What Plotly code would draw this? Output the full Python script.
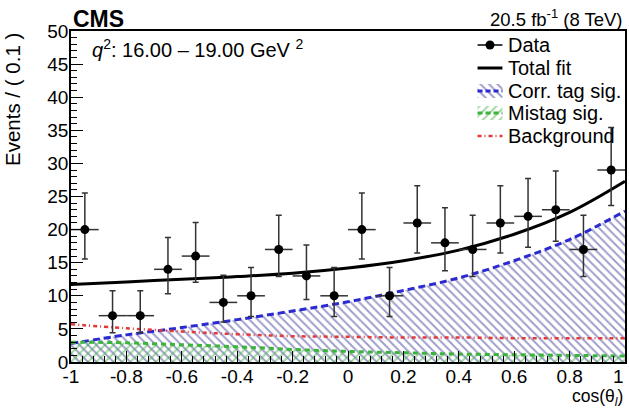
import plotly.graph_objects as go

# Binned data: cos(theta_l) in bins of 0.1, q^2 in [16, 19] GeV^2
bin_centers = [-0.95, -0.85, -0.75, -0.65, -0.55, -0.45, -0.35, -0.25, -0.15, -0.05,
               0.05, 0.15, 0.25, 0.35, 0.45, 0.55, 0.65, 0.75, 0.85, 0.95]
counts = [20, 7, 7, 14, 16, 9, 10, 17, 13, 10,
          20, 10, 21, 18, 17, 21, 22, 23, 17, 29]
# Poisson (Garwood) error bars for the counts above
err_low = [4.44, 2.58, 2.58, 3.70, 3.97, 2.94, 3.11, 4.09, 3.56, 3.11,
           4.44, 3.11, 4.55, 4.21, 4.09, 4.55, 4.66, 4.77, 4.09, 5.36]
err_high = [5.52, 3.77, 3.77, 4.80, 5.06, 4.11, 4.27, 5.18, 4.67, 4.27,
            5.52, 4.27, 5.63, 5.30, 5.18, 5.63, 5.73, 5.84, 5.18, 6.44]
half_bin = [0.05] * len(bin_centers)

# Fit projections sampled along cos(theta_l)
curve_x = [-1.0, -0.8, -0.6, -0.4, -0.2, 0.0, 0.2, 0.4, 0.6, 0.8, 1.0]
total_fit = [11.7, 12.1, 12.5, 12.9, 13.4, 14.2, 15.3, 16.9, 19.3, 22.6, 27.3]
corr_tag = [2.8, 4.1, 5.2, 6.4, 7.7, 9.1, 10.8, 12.7, 15.3, 18.5, 22.8]
mistag = [3.0, 2.9, 2.6, 2.3, 1.9, 1.6, 1.4, 1.2, 1.1, 1.0, 0.9]
background = [5.7, 5.1, 4.6, 4.2, 3.9, 3.8, 3.7, 3.7, 3.6, 3.6, 3.6]

x_tickvals = [-1, -0.8, -0.6, -0.4, -0.2, 0, 0.2, 0.4, 0.6, 0.8, 1]
x_ticktext = ["-1", "-0.8", "-0.6", "-0.4", "-0.2", "0", "0.2", "0.4", "0.6", "0.8", ""]
last_x_tick = "1"
y_tickvals = [0, 5, 10, 15, 20, 25, 30, 35, 40, 45, 50]

legend_labels = ["Data", "Total fit", "Corr. tag sig.", "Mistag sig.", "Background"]

FONT = "Liberation Sans, Arial, Helvetica, sans-serif"
BLUE, BLUE_HATCH = "#2a2ad0", "#3c3c96"
GREEN, GREEN_HATCH = "#3cb43c", "#44b044"
RED = "#e03a3a"
CORR_LINE = dict(color=BLUE, width=3, dash="7px,4px")
MIS_LINE = dict(color=GREEN, width=3, dash="5px,4px")
BKG_LINE = dict(color=RED, width=2.5, dash="4px,3px,1px,3px")
CORR_PATTERN = dict(shape="\\", fgcolor=BLUE_HATCH, bgcolor="rgba(0,0,0,0)", size=6, solidity=0.32)
MIS_PATTERN = dict(shape="/", fgcolor=GREEN_HATCH, bgcolor="rgba(0,0,0,0)", size=6, solidity=0.32)

fig = go.Figure()

fig.add_trace(go.Scatter(
    x=curve_x, y=corr_tag, mode="lines", name="Corr. tag sig.",
    line=dict(CORR_LINE, shape="spline"),
    fill="tozeroy", fillcolor="rgba(0,0,0,0)", fillpattern=CORR_PATTERN,
))
fig.add_trace(go.Scatter(
    x=curve_x, y=mistag, mode="lines", name="Mistag sig.",
    line=dict(MIS_LINE, shape="spline"),
    fill="tozeroy", fillcolor="rgba(0,0,0,0)", fillpattern=MIS_PATTERN,
))
fig.add_trace(go.Scatter(
    x=curve_x, y=background, mode="lines", name="Background",
    line=dict(BKG_LINE, shape="spline"),
))
fig.add_trace(go.Scatter(
    x=curve_x, y=total_fit, mode="lines", name="Total fit",
    line=dict(color="black", width=3, shape="spline"),
))
fig.add_trace(go.Scatter(
    x=bin_centers, y=counts, mode="markers", name="Data",
    marker=dict(color="black", size=9),
    error_y=dict(type="data", symmetric=False, array=err_high, arrayminus=err_low,
                 color="#333333", thickness=1.5, width=3),
    error_x=dict(type="data", array=half_bin, color="#333333", thickness=1.5, width=0),
))

# Legend box drawn on an overlay axis pair measured in screen pixels
# (x: 71..627 left to right, y: 31..362 top to bottom).
row_y = [45, 68, 91, 113, 136]
key_x0, key_x1, text_x = 479, 504, 508
key_mid = (key_x0 + key_x1) / 2
L = dict(xaxis="x2", yaxis="y2", showlegend=False, hoverinfo="skip")

fig.add_trace(go.Scatter(x=[key_x0, key_x1], y=[row_y[0]] * 2, mode="lines",
                         line=dict(color="black", width=1.5), **L))
fig.add_trace(go.Scatter(x=[key_mid], y=[row_y[0]], mode="markers",
                         marker=dict(color="black", size=9), **L))
fig.add_trace(go.Scatter(x=[key_x0, key_x1], y=[row_y[1]] * 2, mode="lines",
                         line=dict(color="black", width=3), **L))
for ry, pattern, line in [(row_y[2], CORR_PATTERN, CORR_LINE), (row_y[3], MIS_PATTERN, MIS_LINE)]:
    fig.add_trace(go.Scatter(
        x=[key_x0, key_x1, key_x1, key_x0, key_x0],
        y=[ry - 7, ry - 7, ry + 7, ry + 7, ry - 7],
        mode="lines", line=dict(width=0), fill="toself",
        fillcolor="rgba(0,0,0,0)", fillpattern=pattern, **L))
    fig.add_trace(go.Scatter(x=[key_x0, key_x1], y=[ry] * 2, mode="lines",
                             line=dict(line, dash="5px,3px"), **L))
fig.add_trace(go.Scatter(x=[key_x0, key_x1], y=[row_y[4]] * 2, mode="lines",
                         line=BKG_LINE, **L))

fig.update_layout(
    width=629, height=409,
    margin=dict(l=71, r=2, t=31, b=47),
    paper_bgcolor="white", plot_bgcolor="white",
    font=dict(family=FONT, color="black", size=19),
    showlegend=False,
    xaxis=dict(
        range=[-1, 1], showgrid=False, zeroline=False,
        showline=True, linecolor="black", linewidth=1.5, mirror=True,
        ticks="inside", ticklen=11, tickwidth=1, tickcolor="black",
        tickmode="array", tickvals=x_tickvals, ticktext=x_ticktext, ticklabelstandoff=-4,
        minor=dict(ticks="inside", ticklen=6, tick0=-1, dtick=0.04,
                   tickcolor="black", tickwidth=1),
        tickfont=dict(size=19),
    ),
    yaxis=dict(
        range=[0, 50], showgrid=False, zeroline=False,
        showline=True, linecolor="black", linewidth=1.5, mirror=True,
        ticks="inside", ticklen=12, tickwidth=1, tickcolor="black",
        tickmode="array", tickvals=y_tickvals, ticklabelstandoff=-3,
        minor=dict(ticks="inside", ticklen=6, tick0=0, dtick=1,
                   tickcolor="black", tickwidth=1),
        tickfont=dict(size=19),
    ),
    xaxis2=dict(overlaying="x", anchor="y2", range=[71, 627], visible=False,
                fixedrange=True, showgrid=False, zeroline=False),
    yaxis2=dict(overlaying="y", anchor="x2", range=[362, 31], visible=False,
                fixedrange=True, showgrid=False, zeroline=False),
)

annotations = [
    dict(text="<b>CMS</b>", x=0.0, y=1.0, xref="paper", yref="paper",
         xanchor="left", yanchor="bottom", yshift=-3, showarrow=False,
         font=dict(size=23, family=FONT)),
    dict(text="20.5 fb<sup>-1</sup> (8 TeV)", x=1.0, y=1.0, xref="paper", yref="paper",
         xanchor="right", yanchor="bottom", yshift=-1, showarrow=False,
         font=dict(size=18.5, family=FONT)),
    dict(text="<i>q</i><sup>2</sup>: 16.00 \u2013 19.00 GeV <sup>2</sup>",
         x=0.035, y=0.99, xref="paper", yref="paper",
         xanchor="left", yanchor="top", showarrow=False,
         font=dict(size=20, family=FONT)),
    dict(text="Events / ( 0.1 )", textangle=-90, x=0, y=1.0, xref="paper", yref="paper",
         xanchor="right", yanchor="top", xshift=-45, showarrow=False,
         font=dict(size=20.5, family=FONT)),
    dict(text="cos(\u03b8<sub><i>l</i></sub>)", x=1.0, y=0, xref="paper", yref="paper",
         xanchor="right", yanchor="bottom", yshift=-49, showarrow=False,
         font=dict(size=17.5, family=FONT)),
    dict(text=last_x_tick, x=1, y=0, xref="x", yref="paper",
         xanchor="right", yanchor="top", xshift=1, yshift=-2, showarrow=False,
         font=dict(size=19, family=FONT)),
]
for label, ry in zip(legend_labels, row_y):
    annotations.append(dict(text=label, x=text_x, y=ry, xref="x2", yref="y2",
                            xanchor="left", yanchor="middle", showarrow=False,
                            font=dict(size=20, family=FONT)))
fig.update_layout(annotations=annotations)

fig.write_html("out.html")
